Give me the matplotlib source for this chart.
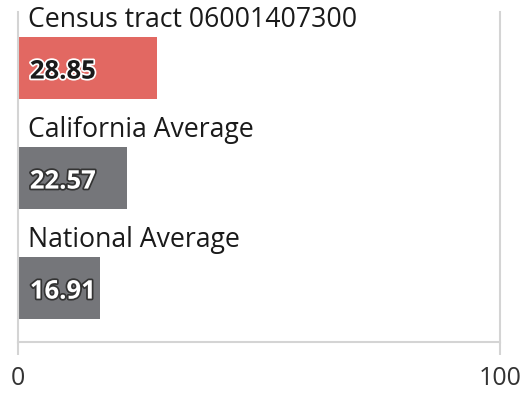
import matplotlib
matplotlib.use("Agg")
import matplotlib.pyplot as plt
import matplotlib.patheffects as pe

plt.rcParams["font.family"] = ["Open Sans", "DejaVu Sans"]

labels = ["Census tract 06001407300", "California Average", "National Average"]
values = [28.85, 22.57, 16.91]
colors = ["#e26862", "#75767a", "#75767a"]
text_colors = ["#1a1a1a", "#ffffff", "#ffffff"]
halo_colors = ["#ffffff", "#333333", "#333333"]

GRID = "#d4d4d4"
BAR_H = 0.56

fig = plt.figure(figsize=(5.30, 3.94), dpi=100)
ax = fig.add_axes([18 / 530, 52 / 394, 482 / 530, 330 / 394])

ypos = list(range(len(values)))
ax.barh(ypos, values, height=BAR_H, color=colors, zorder=2)

for y, lab, v, tc, hc in zip(ypos, labels, values, text_colors, halo_colors):
    # category name sits just above its bar
    ax.annotate(lab, xy=(0, y - BAR_H / 2), xytext=(7.5, 7.5),
                textcoords="offset points", ha="left", va="baseline",
                fontsize=19.2, color="#1a1a1a")
    # value printed inside the bar with an outline
    ax.annotate(f"{v:.2f}", xy=(0, y), xytext=(8.5, 0),
                textcoords="offset points", ha="left", va="center_baseline",
                fontsize=18.5, fontweight="bold", color=tc,
                path_effects=[pe.withStroke(linewidth=2.5, foreground=hc)])

ax.set_xlim(0, 100)
ax.set_ylim(2.49, -0.51)

ax.set_xticks([0, 100])
ax.set_xticklabels(["0", "100"])
ax.set_yticks([])
ax.tick_params(axis="x", length=9, width=1.5, color=GRID, pad=8,
               labelsize=18, labelcolor="#333333")

for side in ["left", "right", "bottom"]:
    ax.spines[side].set_color(GRID)
    ax.spines[side].set_linewidth(1.5)
ax.spines["top"].set_visible(False)

fig.savefig("out.png", dpi=100)
